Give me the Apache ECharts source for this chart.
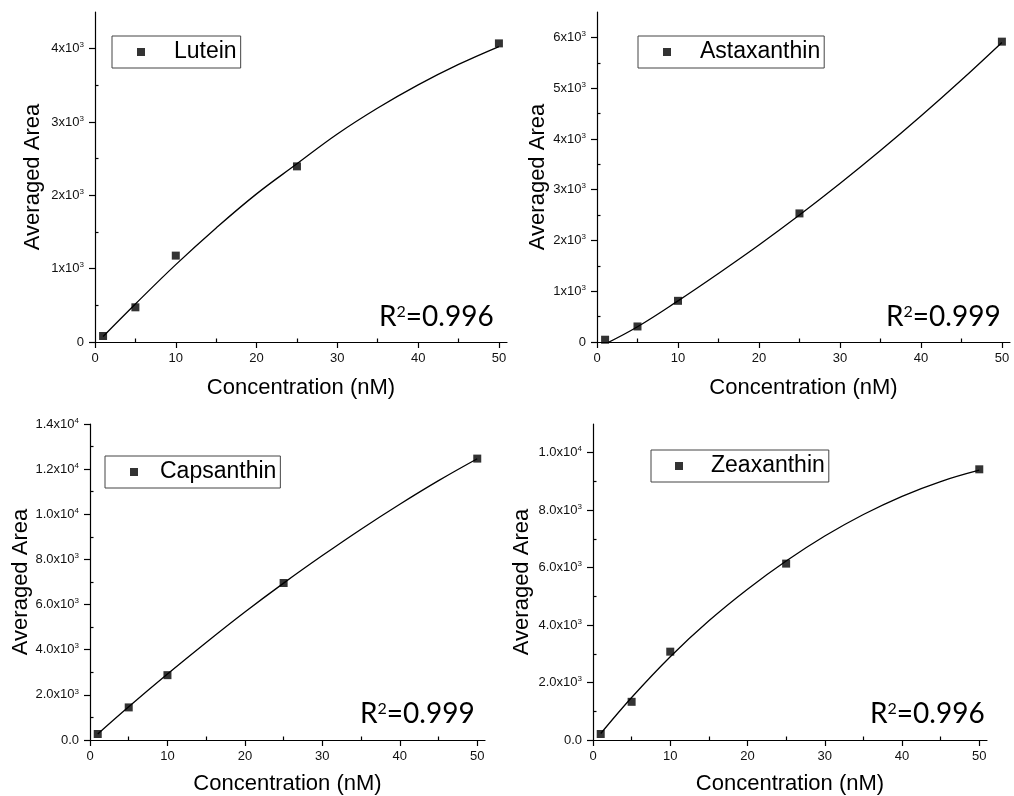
<!DOCTYPE html>
<html>
<head>
<meta charset="utf-8">
<script src="https://cdn.jsdelivr.net/npm/echarts@6/dist/echarts.min.js"></script>
<style>
  html, body { margin: 0; padding: 0; background: #fff; }
  #chart { width: 1014px; height: 796px; }
</style>
</head>
<body>
<div id="chart"></div>
<script>
// concentrations (nM) of the standards
const conc = [1, 5, 10, 25, 50];
const fitX = [1, 5, 10, 15, 20, 25, 30, 35, 40, 45, 50];

const xTicks = [0, 10, 20, 30, 40, 50];
const xMinor = [5, 15, 25, 35, 45];

// Lutein
const luteinArea = [82, 473, 1178, 2395, 4072];
const luteinFit = [75, 518, 1055, 1555, 2020, 2430, 2836, 3190, 3506, 3785, 4029];
const luteinYTicks = [0, 1000, 2000, 3000, 4000];
const luteinYLabels = ['0', '1x10^3', '2x10^3', '3x10^3', '4x10^3'];
const luteinYMinor = [500, 1500, 2500, 3500];

// Astaxanthin
const astaArea = [45, 306, 811, 2533, 5916];
const astaFit = [-40, 300, 810, 1350, 1910, 2500, 3120, 3770, 4450, 5160, 5900];
const astaYTicks = [0, 1000, 2000, 3000, 4000, 5000, 6000];
const astaYLabels = ['0', '1x10^3', '2x10^3', '3x10^3', '4x10^3', '5x10^3', '6x10^3'];
const astaYMinor = [500, 1500, 2500, 3500, 4500, 5500];

// Capsanthin
const capsArea = [265, 1444, 2873, 6955, 12467];
const capsFit = [265, 1470, 2920, 4320, 5670, 6950, 8170, 9340, 10445, 11490, 12460];
const capsYTicks = [0, 2000, 4000, 6000, 8000, 10000, 12000, 14000];
const capsYLabels = ['0.0', '2.0x10^3', '4.0x10^3', '6.0x10^3', '8.0x10^3', '1.0x10^4', '1.2x10^4', '1.4x10^4'];
const capsYMinor = [1000, 3000, 5000, 7000, 9000, 11000, 13000];

// Zeaxanthin
const zeaArea = [208, 1329, 3075, 6140, 9423];
const zeaFit = [225, 1480, 2900, 4150, 5250, 6230, 7100, 7850, 8484, 8998, 9392];
const zeaYTicks = [0, 2000, 4000, 6000, 8000, 10000];
const zeaYLabels = ['0.0', '2.0x10^3', '4.0x10^3', '6.0x10^3', '8.0x10^3', '1.0x10^4'];
const zeaYMinor = [1000, 3000, 5000, 7000, 9000];

const rSquared = ['0.996', '0.999', '0.999', '0.996'];

const panels = [
  { name: 'Lutein', area: luteinArea, fit: luteinFit, yMax: 4500, yTicks: luteinYTicks, yLabels: luteinYLabels, yMinor: luteinYMinor,
    grid: { left: 95, top: 12, width: 412, height: 330 }, yGap: 51,
    legend: { left: 112, top: 36, pad: 25, gap: 24 }, r2: { left: 379, top: 303 } },
  { name: 'Astaxanthin', area: astaArea, fit: astaFit, yMax: 6500, yTicks: astaYTicks, yLabels: astaYLabels, yMinor: astaYMinor,
    grid: { left: 597, top: 12, width: 413, height: 330 }, yGap: 48,
    legend: { left: 638, top: 36, pad: 25, gap: 24 }, r2: { left: 886, top: 303 } },
  { name: 'Capsanthin', area: capsArea, fit: capsFit, yMax: 14000, yTicks: capsYTicks, yLabels: capsYLabels, yMinor: capsYMinor,
    grid: { left: 90, top: 424, width: 395, height: 317 }, yGap: 58,
    legend: { left: 105, top: 456, pad: 25, gap: 17 }, r2: { left: 360, top: 700 } },
  { name: 'Zeaxanthin', area: zeaArea, fit: zeaFit, yMax: 11000, yTicks: zeaYTicks, yLabels: zeaYLabels, yMinor: zeaYMinor,
    grid: { left: 593, top: 424, width: 394, height: 317 }, yGap: 60,
    legend: { left: 651, top: 450, pad: 24, gap: 23 }, r2: { left: 870, top: 700 } }
];

const FONT = 'Liberation Sans, Arial, sans-serif';

function supLabel(str) {
  // '4x10^3' -> rich text with superscript
  const p = str.split('^');
  return p.length > 1 ? p[0] + '{s|' + p[1] + '}' : str;
}

const option = {
  backgroundColor: '#fff',
  animation: false,
  grid: [], xAxis: [], yAxis: [], series: [], legend: [], graphic: []
};

panels.forEach((p, i) => {
  option.grid.push(Object.assign({}, p.grid));
  // main x axis
  option.xAxis.push({
    type: 'value', gridIndex: i, min: 0, max: 51,
    name: 'Concentration (nM)', nameLocation: 'middle', nameGap: i < 2 ? 35 : 33,
    nameTextStyle: { fontFamily: FONT, fontSize: 22, color: '#000' },
    axisLine: { show: true, lineStyle: { color: '#000', width: 1.2 } },
    axisTick: { show: true, length: 6, customValues: xTicks, lineStyle: { color: '#000', width: 1.2 } },
    axisLabel: { customValues: xTicks, margin: 10, fontFamily: FONT, fontSize: 13, color: '#111' },
    splitLine: { show: false }
  });
  // minor x ticks
  option.xAxis.push({
    type: 'value', gridIndex: i, min: 0, max: 51,
    axisLine: { show: false },
    axisTick: { show: true, length: 3.5, customValues: xMinor, lineStyle: { color: '#000', width: 1.2 } },
    axisLabel: { show: false }, splitLine: { show: false }
  });
  option.yAxis.push({
    type: 'value', gridIndex: i, min: 0, max: p.yMax,
    name: 'Averaged Area', nameLocation: 'middle', nameGap: p.yGap,
    nameTextStyle: { fontFamily: FONT, fontSize: 22, color: '#000' },
    axisLine: { show: true, lineStyle: { color: '#000', width: 1.2 } },
    axisTick: { show: true, length: 6, customValues: p.yTicks, lineStyle: { color: '#000', width: 1.2 } },
    axisLabel: {
      customValues: p.yTicks, margin: 11, fontFamily: FONT, fontSize: 13, color: '#111',
      formatter: v => supLabel(p.yLabels[p.yTicks.indexOf(v)] || ''),
      rich: { s: { fontFamily: FONT, fontSize: 8, color: '#111', padding: [0, 0, 7, 0] } }
    },
    splitLine: { show: false }
  });
  option.yAxis.push({
    type: 'value', gridIndex: i, min: 0, max: p.yMax,
    axisLine: { show: false },
    axisTick: { show: true, length: 3.5, customValues: p.yMinor, lineStyle: { color: '#000', width: 1.2 } },
    axisLabel: { show: false }, splitLine: { show: false }
  });

  option.series.push({
    name: p.name + ' fit', type: 'line', xAxisIndex: i * 2, yAxisIndex: i * 2,
    data: fitX.map((x, k) => [x, p.fit[k]]),
    smooth: 0.4, showSymbol: false, clip: true, z: 2,
    lineStyle: { color: '#000', width: 1.3 }
  });
  option.series.push({
    name: p.name, type: 'scatter', xAxisIndex: i * 2, yAxisIndex: i * 2,
    data: conc.map((x, k) => [x, p.area[k]]),
    symbol: 'rect', symbolSize: 8, itemStyle: { color: '#000' }, z: 3
  });

  option.legend.push({
    data: [p.name], left: p.legend.left, top: p.legend.top,
    orient: 'horizontal', icon: 'rect', itemWidth: 8, itemHeight: 8,
    padding: [4, 4, 4, p.legend.pad], borderColor: '#444', borderWidth: 1,
    selectedMode: false,
    textStyle: { fontFamily: FONT, fontSize: 23, color: '#000', lineHeight: 24, padding: [0, 0, 0, p.legend.gap] }
  });

  option.graphic.push({
    type: 'text', left: p.r2.left, top: p.r2.top,
    style: {
      text: 'R{s|2}=' + rSquared[i],
      font: '28px Lato, "Open Sans", sans-serif', fill: '#000',
      rich: { s: { fontFamily: 'Lato', fontSize: 16, padding: [0, 0, 11, 0] } }
    }
  });
});

const chart = echarts.init(document.getElementById('chart'));
chart.setOption(option);
</script>
</body>
</html>
